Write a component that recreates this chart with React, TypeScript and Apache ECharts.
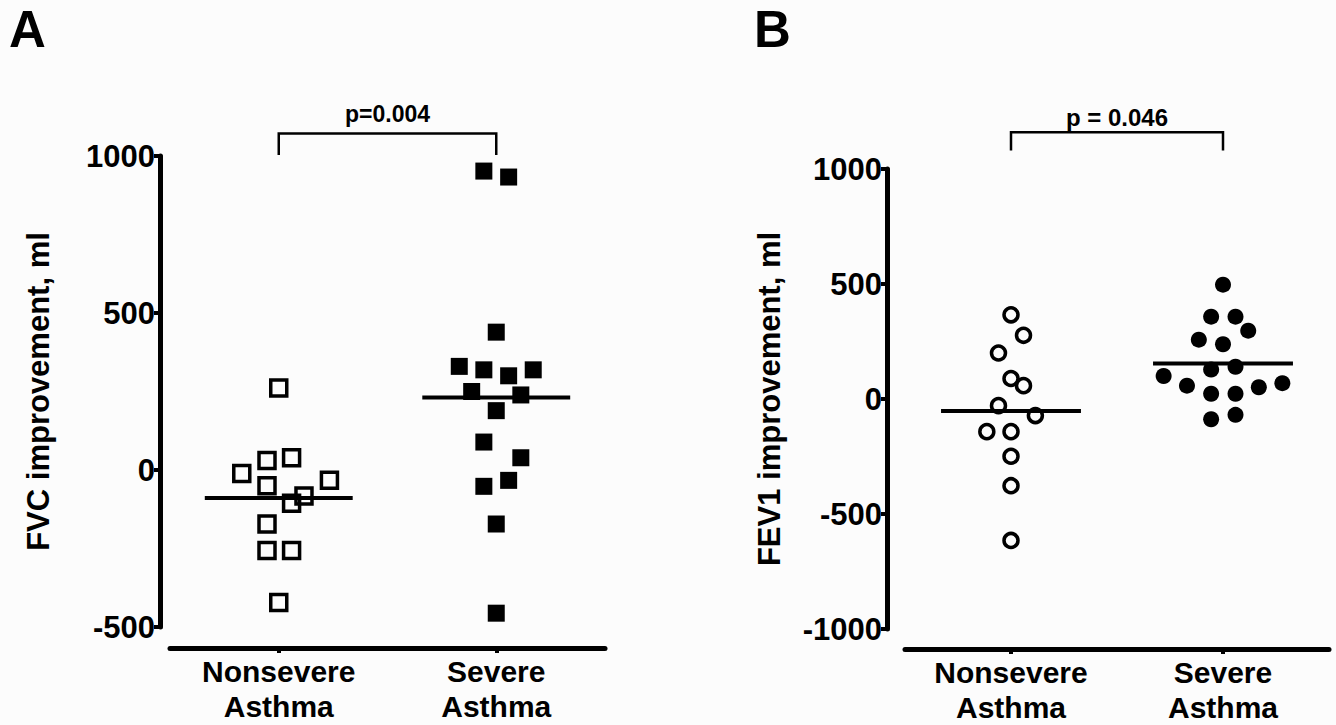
import React, { useEffect, useRef } from "react";
import * as echarts from "echarts";

// ---- Data ----
const categories = ["Nonsevere\nAsthma", "Severe\nAsthma"];

// Panel A: FVC improvement, ml
const fvcNonsevere = [261, -11, 30, 39, -33, -50, -106, -83, -172, -256, -256, -422];
const fvcNonsevereJitter = [0, -0.17, -0.054, 0.059, 0.233, -0.054, 0.059, 0.116, -0.054, -0.054, 0.059, 0];
const fvcSevere = [952, 933, 439, 330, 319, 300, 319, 250, 239, 189, 89, 39, -33, -52, -172, -456];
const fvcSevereJitter = [-0.057, 0.057, 0, -0.17, -0.057, 0.057, 0.17, -0.113, 0.113, 0, -0.057, 0.113, 0.057, -0.057, 0, 0];
const fvcMeans = [-89, 231];
const fvcTicks = [-500, 0, 500, 1000];
const fvcP = "p=0.004";

// Panel B: FEV1 improvement, ml
const fevNonsevere = [366, 277, 200, 89, 58, -29, -72, -142, -142, -249, -377, -615];
const fevNonsevereJitter = [0, 0.059, -0.059, 0, 0.059, -0.059, 0.115, -0.114, 0, 0, 0, 0];
const fevSevere = [497, 358, 358, 297, 258, 238, 128, 140, 100, 58, 23, 23, 51, 69, -88, -69];
const fevSevereJitter = [0, -0.056, 0.059, 0.119, -0.114, 0, -0.056, 0.059, -0.28, -0.17, -0.056, 0.059, 0.169, 0.28, -0.056, 0.059];
const fevMeans = [-52, 154];
const fevTicks = [-1000, -500, 0, 500, 1000];
const fevP = "p = 0.046";

const FONT = "'Liberation Sans', Arial, Helvetica, sans-serif";

function pts(group: number, values: number[], jitter: number[]) {
  return values.map((v, i) => [group + jitter[i], v]);
}

export default function App() {
  const ref = useRef<HTMLDivElement>(null);

  useEffect(() => {
    if (!ref.current) return;
    const chart = echarts.init(ref.current, undefined, { renderer: "svg" });

    const xAxisBase = (gridIndex: number, offset: number) => ({
      gridIndex,
      type: "value",
      min: 0.5,
      max: 2.5,
      position: "bottom",
      offset,
      splitLine: { show: false },
      axisLine: { show: true, onZero: false, lineStyle: { color: "#000", width: 5 } },
      axisTick: { show: true, customValues: [1, 2], length: 5, lineStyle: { color: "#000", width: 4 } },
      axisLabel: {
        show: true,
        customValues: [1, 2],
        formatter: (v: number) => categories[Math.round(v) - 1] || "",
        color: "#000",
        fontFamily: FONT,
        fontWeight: "bold",
        fontSize: 30,
        lineHeight: 35,
        margin: 6,
      },
    });

    const yAxisBase = (gridIndex: number, min: number, max: number, offset: number, name: string, nameGap: number) => ({
      gridIndex,
      type: "value",
      min,
      max,
      interval: 500,
      offset,
      name,
      nameLocation: "middle",
      nameRotate: 90,
      nameGap,
      nameTextStyle: { color: "#000", fontFamily: FONT, fontWeight: "bold", fontSize: 31 },
      splitLine: { show: false },
      axisLine: { show: true, onZero: false, lineStyle: { color: "#000", width: 5 } },
      axisTick: { show: true, length: 6, lineStyle: { color: "#000", width: 4 } },
      axisLabel: {
        color: "#000",
        fontFamily: FONT,
        fontWeight: "bold",
        fontSize: 31,
        margin: 5,
        formatter: (v: number) => String(v),
      },
    });

    const scatter = (gi: number, data: number[][], symbol: string, size: number, filled: boolean) => ({
      type: "scatter",
      xAxisIndex: gi,
      yAxisIndex: gi,
      data,
      symbol,
      symbolSize: size,
      clip: false,
      z: 3,
      itemStyle: filled
        ? { color: "#000", borderWidth: 0, opacity: 1 }
        : { color: "rgba(255,255,255,0)", borderColor: "#000", borderWidth: 3.5, opacity: 1 },
    });

    const meanLine = (gi: number, group: number, mean: number, half: number) => ({
      type: "line",
      xAxisIndex: gi,
      yAxisIndex: gi,
      data: [
        [group - half, mean],
        [group + half, mean],
      ],
      symbol: "none",
      clip: false,
      z: 4,
      lineStyle: { color: "#000", width: 4 },
    });

    const bracket = (gi: number, low: number, high: number) => ({
      type: "line",
      xAxisIndex: gi,
      yAxisIndex: gi,
      data: [
        [1, low],
        [1, high],
        [2, high],
        [2, low],
      ],
      symbol: "none",
      clip: false,
      lineStyle: { color: "#000", width: 2.5, cap: "butt", join: "miter" },
    });

    const pLabel = (gi: number, y: number, text: string, size: number) => ({
      type: "scatter",
      xAxisIndex: gi,
      yAxisIndex: gi,
      data: [[1.5, y]],
      symbolSize: 1,
      clip: false,
      itemStyle: { color: "rgba(0,0,0,0)" },
      label: {
        show: true,
        position: "inside",
        formatter: text,
        color: "#000",
        opacity: 1,
        textBorderWidth: 0,
        fontFamily: FONT,
        fontWeight: "bold",
        fontSize: size,
      },
    });

    chart.setOption({
      animation: false,
      backgroundColor: "#fcfcfc",
      textStyle: { fontFamily: FONT },
      grid: [
        { left: 170, top: 156, width: 435, height: 471 },
        { left: 905, top: 169, width: 424, height: 463 },
      ],
      xAxis: [xAxisBase(0, 21), xAxisBase(1, 20)],
      yAxis: [
        yAxisBase(0, fvcTicks[0], fvcTicks[fvcTicks.length - 1], 10, "FVC improvement, ml", 106),
        yAxisBase(1, fevTicks[0], fevTicks[fevTicks.length - 1], 18, "FEV1 improvement, ml", 102),
      ],
      graphic: [
        { type: "text", left: 9, top: 4, style: { text: "A", fontFamily: FONT, fontWeight: "bold", fontSize: 51, fill: "#000" } },
        { type: "text", left: 754, top: 4, style: { text: "B", fontFamily: FONT, fontWeight: "bold", fontSize: 51, fill: "#000" } },
      ],
      series: [
        bracket(0, 1003, 1072),
        pLabel(0, 1133, fvcP, 23),
        scatter(0, pts(1, fvcNonsevere, fvcNonsevereJitter), "rect", 16, false),
        scatter(0, pts(2, fvcSevere, fvcSevereJitter), "rect", 17, true),
        meanLine(0, 1, fvcMeans[0], 0.34),
        meanLine(0, 2, fvcMeans[1], 0.34),

        bracket(1, 1080, 1160),
        pLabel(1, 1222, fevP, 24),
        scatter(1, pts(1, fevNonsevere, fevNonsevereJitter), "circle", 14, false),
        scatter(1, pts(2, fevSevere, fevSevereJitter), "circle", 16, true),
        meanLine(1, 1, fevMeans[0], 0.33),
        meanLine(1, 2, fevMeans[1], 0.33),
      ],
    });

    return () => chart.dispose();
  }, []);

  return (
    <div
      ref={ref}
      style={{ position: "absolute", left: 0, top: 0, width: 1336, height: 725 }}
    />
  );
}
